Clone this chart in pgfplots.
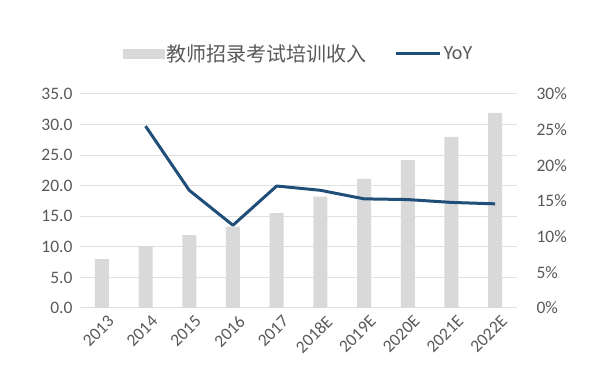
\documentclass[border=0pt]{standalone}
\usepackage{pgfplots}
\pgfplotsset{compat=1.18}
\usepackage{fontspec}
\setmainfont{Carlito}
\newfontfamily\cjk{Noto Sans CJK SC}
\definecolor{bargray}{HTML}{D9D9D9}
\definecolor{lineblue}{HTML}{1F4E79}
\definecolor{txtgray}{HTML}{595959}
\definecolor{gridgray}{HTML}{E0E0E0}
\begin{document}
\begin{tikzpicture}
\useasboundingbox (0,0) rectangle (592pt,377pt);
\begin{axis}[
  at={(80pt,69pt)}, anchor=south west,
  width=437pt, height=214pt, scale only axis,
  xmin=-0.5, xmax=9.5, ymin=0, ymax=35,
  ytick={0,5,...,35},
  yticklabel style={xshift=-4pt, /pgf/number format/.cd, fixed, fixed zerofill, precision=1},
  /pgf/number format/assume math mode=true,
  xtick={0,...,9},
  xticklabels={2013,2014,2015,2016,2017,2018E,2019E,2020E,2021E,2022E},
  xticklabel style={rotate=45, anchor=north east, inner sep=1pt, yshift=-7pt, xshift=0pt},
  tick label style={font=\fontsize{17.5}{19}\selectfont, text=txtgray},
  axis line style={draw=none}, major tick length=0pt,
  ymajorgrids, grid style={gridgray, line width=1pt},
  axis x line*=bottom, axis y line*=left,
  legend style={at={(0.5,1.187)}, anchor=center, draw=none, fill=none,
    legend columns=2, font=\fontsize{20}{22}\selectfont\color{txtgray},
    /tikz/every odd column/.append style={column sep=0pt},
    /tikz/every even column/.append style={column sep=26pt}},
  legend cell align=left,
]
\addplot[ybar, bar width=14pt, fill=bargray, draw=none,
  area legend,
  legend image code/.code={\fill[bargray] (0pt,-5pt) rectangle (42pt,5pt);}]
  coordinates {(0,8.0) (1,10.1) (2,11.9) (3,13.3) (4,15.5) (5,18.2) (6,21.1) (7,24.2) (8,28.0) (9,31.9)};
\addlegendentry{\cjk 教师招录考试培训收入}
\addlegendimage{lineblue, line width=3pt, legend image code/.code={\draw[lineblue, line width=3pt] (-2pt,0pt) -- (42pt,0pt);}}
\addlegendentry{YoY}
\end{axis}
\begin{axis}[
  at={(80pt,69pt)}, anchor=south west,
  width=437pt, height=214pt, scale only axis,
  xmin=-0.5, xmax=9.5, ymin=0, ymax=30,
  axis y line*=right, axis x line=none,
  ytick={0,5,...,30},
  yticklabels={0\%,5\%,10\%,15\%,20\%,25\%,30\%},
  tick label style={font=\fontsize{17.5}{19}\selectfont, text=txtgray},
  yticklabel style={anchor=west, xshift=16pt},
  axis line style={draw=none}, major tick length=0pt,
]
\addplot[lineblue, line width=3pt, line join=round]
  coordinates {(1,25.5) (2,16.5) (3,11.6) (4,17.1) (5,16.5) (6,15.3) (7,15.2) (8,14.8) (9,14.6)};
\end{axis}
\end{tikzpicture}
\end{document}
